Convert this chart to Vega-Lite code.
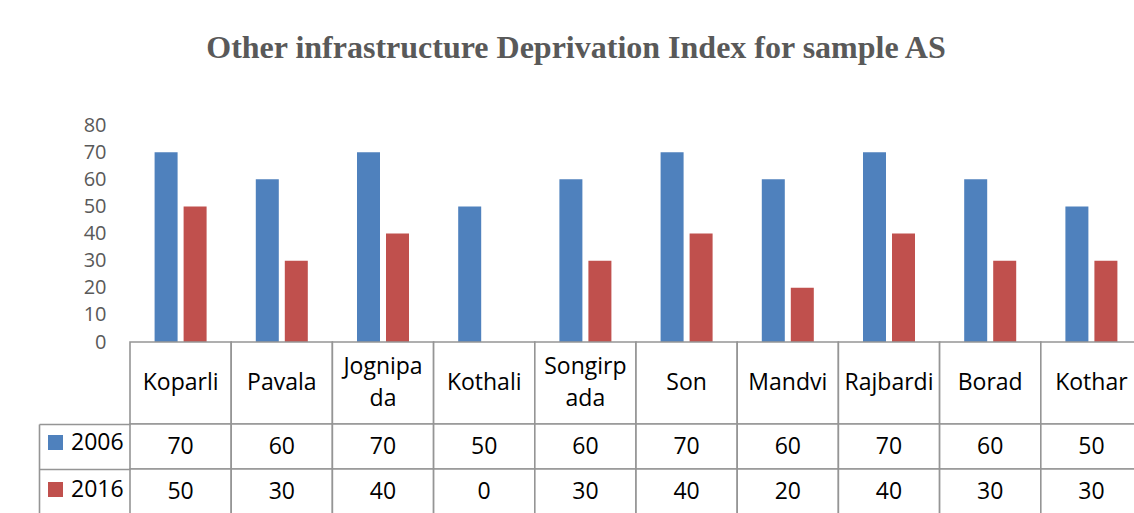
{
  "$schema": "https://vega.github.io/schema/vega-lite/v6.json",
  "autosize": {"type": "none"},
  "padding": {"left": 130, "top": 125, "right": 0, "bottom": 0},
  "width": 1012,
  "height": 389,
  "background": "white",
  "config": {"view": {"stroke": null}, "font": "Open Sans"},
  "title": {
    "text": "Other infrastructure Deprivation Index for sample AS",
    "font": "Liberation Serif",
    "fontSize": 32,
    "fontWeight": "bold",
    "color": "#595959",
    "anchor": "middle",
    "frame": "group",
    "dx": -60,
    "offset": 50
  },
  "data": {
    "values": [
      {"category": "Koparli", "year": "2006", "value": 70},
      {"category": "Pavala", "year": "2006", "value": 60},
      {"category": "Jognipa\nda", "year": "2006", "value": 70},
      {"category": "Kothali", "year": "2006", "value": 50},
      {"category": "Songirp\nada", "year": "2006", "value": 60},
      {"category": "Son", "year": "2006", "value": 70},
      {"category": "Mandvi", "year": "2006", "value": 60},
      {"category": "Rajbardi", "year": "2006", "value": 70},
      {"category": "Borad", "year": "2006", "value": 60},
      {"category": "Kothar", "year": "2006", "value": 50},
      {"category": "Koparli", "year": "2016", "value": 50},
      {"category": "Pavala", "year": "2016", "value": 30},
      {"category": "Jognipa\nda", "year": "2016", "value": 40},
      {"category": "Kothali", "year": "2016", "value": 0},
      {"category": "Songirp\nada", "year": "2016", "value": 30},
      {"category": "Son", "year": "2016", "value": 40},
      {"category": "Mandvi", "year": "2016", "value": 20},
      {"category": "Rajbardi", "year": "2016", "value": 40},
      {"category": "Borad", "year": "2016", "value": 30},
      {"category": "Kothar", "year": "2016", "value": 30}
    ]
  },
  "resolve": {"scale": {"y": "independent"}, "axis": {"y": "independent"}},
  "layer": [
    {
      "mark": {"type": "bar"},
      "encoding": {
        "x": {"field": "category", "type": "nominal", "sort": null, "scale": {"padding": 0}, "axis": null},
        "xOffset": {"field": "year", "type": "nominal", "scale": {"paddingInner": 0.207, "paddingOuter": 0.848}},
        "y": {
          "field": "value", "type": "quantitative",
          "scale": {"domain": [0, 80], "range": [217, 0], "nice": false},
          "axis": {
            "orient": "left",
            "values": [0, 10, 20, 30, 40, 50, 60, 70, 80],
            "ticks": false, "domain": false, "grid": false,
            "labelPadding": 24, "labelColor": "#595959", "labelFontSize": 20, "labelFont": "Open Sans",
            "title": null
          }
        },
        "color": {
          "field": "year", "type": "nominal",
          "scale": {"domain": ["2006", "2016"], "range": ["#4F81BD", "#C0504D"]},
          "legend": {
            "orient": "none", "legendX": -86, "legendY": 306,
            "title": null, "symbolType": "square", "symbolSize": 225, "symbolStrokeWidth": 0,
            "symbolOpacity": 1,
            "labelFontSize": 23, "labelColor": "#000000", "labelFont": "Open Sans",
            "labelOffset": 4, "rowPadding": 23, "padding": 0
          }
        }
      }
    },
    {
      "transform": [{"filter": {"field": "year", "equal": "2006"}}],
      "encoding": {
        "x": {"field": "category", "type": "nominal", "sort": null, "axis": null},
        "y": {"datum": "header", "type": "nominal", "scale": {"type": "band", "range": [217, 299], "padding": 0}, "axis": null}
      },
      "layer": [
        {"mark": {"type": "rect", "fill": "white", "stroke": "#959595", "strokeWidth": 1.6}},
        {
          "mark": {
            "type": "text", "lineBreak": "\n", "fontSize": 23, "font": "Open Sans", "color": "#000000",
            "baseline": "middle", "lineHeight": 32,
            "dy": {"expr": "indexof(datum.category, '\\n') >= 0 ? -16 : 0"}
          },
          "encoding": {"text": {"field": "category"}}
        }
      ]
    },
    {
      "mark": {"type": "rect", "fill": "white", "stroke": "#959595", "strokeWidth": 1.6},
      "encoding": {
        "x": {"field": "category", "type": "nominal", "sort": null, "axis": null},
        "y": {
          "field": "year", "type": "nominal",
          "scale": {"type": "band", "domain": ["2006", "2016"], "range": [299, 389], "padding": 0},
          "axis": {
            "orient": "left", "title": null, "labels": false, "domain": false,
            "ticks": true, "tickBand": "extent", "tickSize": 91, "tickColor": "#959595", "tickWidth": 1.6
          }
        }
      }
    },
    {
      "mark": {"type": "text", "fontSize": 23, "font": "Open Sans", "color": "#000000", "baseline": "middle"},
      "encoding": {
        "x": {"field": "category", "type": "nominal", "sort": null, "axis": null},
        "y": {
          "field": "year", "type": "nominal",
          "scale": {"type": "band", "domain": ["2006", "2016"], "range": [299, 389], "padding": 0},
          "axis": {
            "orient": "left", "title": null, "labels": false, "ticks": false,
            "domain": true, "domainColor": "#959595", "domainWidth": 1.6, "offset": 91
          }
        },
        "text": {"field": "value", "type": "quantitative"}
      }
    }
  ]
}
